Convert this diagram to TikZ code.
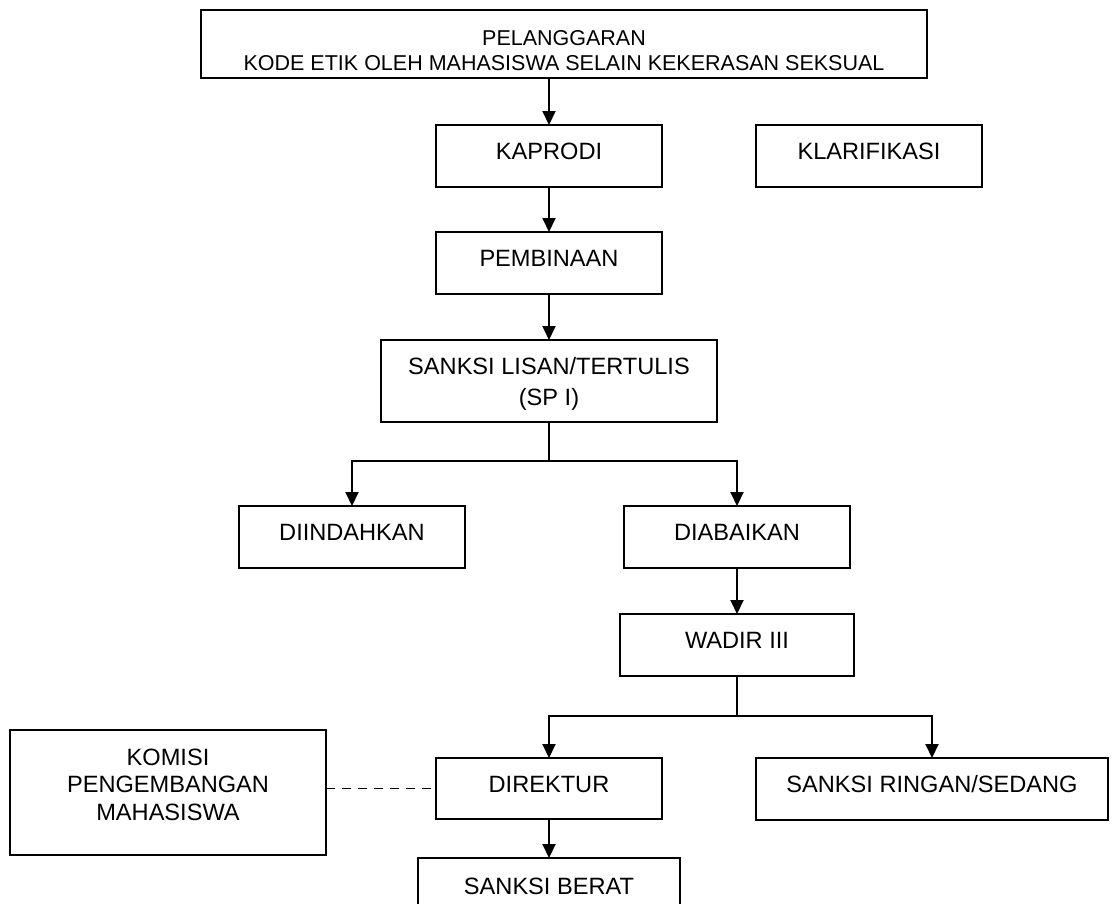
\documentclass[tikz,border=0pt]{standalone}
\usepackage{fontspec}
\setmainfont{Liberation Sans}
\usetikzlibrary{arrows.meta}
\tikzset{
  box/.style={draw, line width=2pt, inner sep=0pt, outer sep=0pt},
  txt/.style={anchor=base, inner sep=0pt, font=\fontsize{23.6pt}{27pt}\selectfont},
  toptxt/.style={anchor=base, inner sep=0pt, font=\fontsize{21.5pt}{25pt}\selectfont},
  ln/.style={line width=2pt},
  arr/.style={line width=2pt, -{Triangle[width=13pt,length=14pt]}},
  dashln/.style={line width=1.8pt, dash pattern=on 9pt off 7pt}
}
\begin{document}
\begin{tikzpicture}[x=1pt,y=-1pt]
\clip (0,0) rectangle (1117,903);
\fill[white] (0,0) rectangle (1117,903);
% boxes
\node[box, minimum width=726pt, minimum height=68pt] (top) at (564,44) {};
\node[box, minimum width=226pt, minimum height=62pt] (kaprodi) at (549,156) {};
\node[box, minimum width=226pt, minimum height=62pt] (klar) at (869,156) {};
\node[box, minimum width=226pt, minimum height=62pt] (pemb) at (549,263) {};
\node[box, minimum width=336pt, minimum height=82pt] (sanksi) at (549,381) {};
\node[box, minimum width=226pt, minimum height=62pt] (diind) at (352,537) {};
\node[box, minimum width=226pt, minimum height=62pt] (diab) at (737,537) {};
\node[box, minimum width=234pt, minimum height=62pt] (wadir) at (737,645) {};
\node[box, minimum width=226pt, minimum height=61pt] (direktur) at (549,788.5) {};
\node[box, minimum width=352pt, minimum height=62pt] (ringan) at (932,789) {};
\node[box, minimum width=316pt, minimum height=125pt] (komisi) at (168,792.5) {};
\node[box, minimum width=262pt, minimum height=64pt] (berat) at (549,890) {};
% texts
\node[toptxt] (top-a) at (564,45) {PELANGGARAN};
\node[toptxt] (top-b) at (564,70) {KODE ETIK OLEH MAHASISWA SELAIN KEKERASAN SEKSUAL};
\node[txt] (kaprodi-t) at (549,159.5) {KAPRODI};
\node[txt] (klar-t) at (869,159.5) {KLARIFIKASI};
\node[txt] (pemb-t) at (549,266.5) {PEMBINAAN};
\node[txt] (sanksi-a) at (549,374) {SANKSI LISAN/TERTULIS};
\node[txt] (sanksi-b) at (549,405) {(SP I)};
\node[txt] (diind-t) at (352,540.5) {DIINDAHKAN};
\node[txt] (diab-t) at (737,540.5) {DIABAIKAN};
\node[txt] (wadir-t) at (737,648.5) {WADIR III};
\node[txt] (direktur-t) at (549,792) {DIREKTUR};
\node[txt] (ringan-t) at (932,792) {SANKSI RINGAN/SEDANG};
\node[txt] (komisi-a) at (168,765) {KOMISI};
\node[txt] (komisi-b) at (168,792) {PENGEMBANGAN};
\node[txt] (komisi-c) at (168,820) {MAHASISWA};
\node[txt] (berat-t) at (549,894) {SANKSI BERAT};
% connectors
\draw[arr] (kaprodi.north |- top.south) -- (kaprodi.north);
\draw[arr] (kaprodi) -- (pemb);
\draw[arr] (pemb) -- (sanksi);
\coordinate (split1) at (549,461);
\draw[ln] (sanksi.south) -- (split1);
\draw[arr] (split1) -| (diind.north);
\draw[arr] (split1) -| (diab.north);
\draw[arr] (diab) -- (wadir);
\coordinate (split2) at (737,716);
\draw[ln] (wadir.south) -- (split2);
\draw[arr] (split2) -| (direktur.north);
\draw[arr] (split2) -| (ringan.north);
\draw[dashln] (komisi.east |- direktur.west) -- (direktur.west);
\draw[arr] (direktur) -- (berat);
\end{tikzpicture}
\end{document}
